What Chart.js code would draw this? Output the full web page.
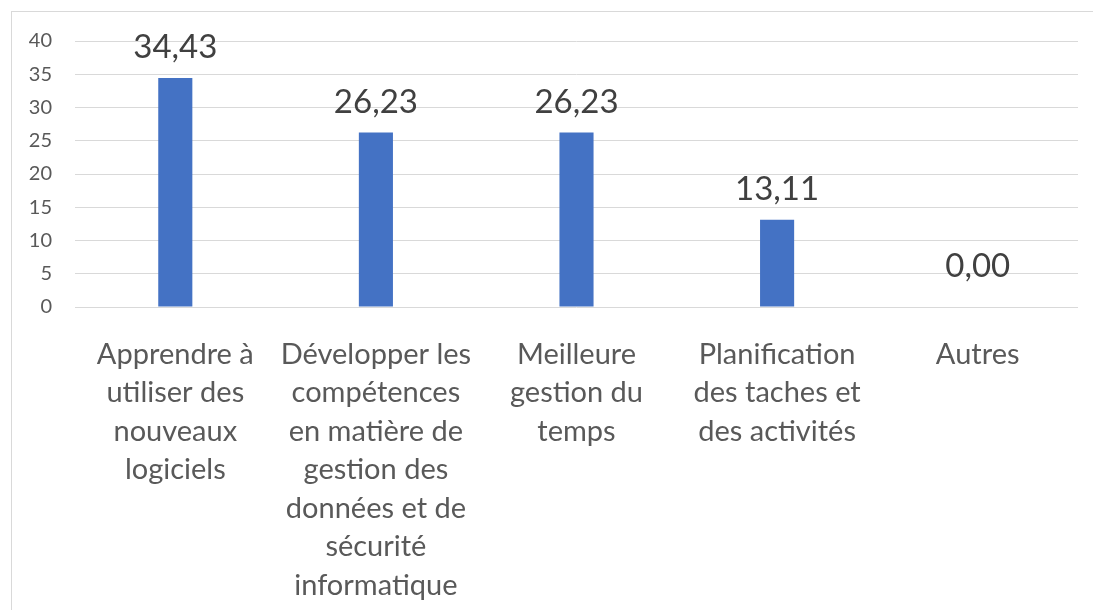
<!DOCTYPE html>
<html>
<head>
<meta charset="utf-8">
<script src="https://cdn.jsdelivr.net/npm/chart.js@4"></script>
<style>
  body { margin: 0; background: #fff; }
  #wrap { position: relative; width: 1093px; height: 610px; }
  #frame { position: absolute; left: 11px; top: 11px; width: 1100px; height: 620px; border: 1px solid #d9d9d9; box-sizing: border-box; }
  #wrap canvas { position: absolute; left: 0; top: 0; }
</style>
</head>
<body>
<div id="wrap">
  <div id="frame"></div>
  <canvas id="mainChart" width="1093" height="610"></canvas>
</div>
<script>
const labels = [
    ['Apprendre à', 'utiliser des', 'nouveaux', 'logiciels'],
    ['Développer les', 'compétences', 'en matière de', 'gestion des', 'données et de', 'sécurité', 'informatique'],
    ['Meilleure', 'gestion du', 'temps'],
    ['Planification', 'des taches et', 'des activités'],
    ['Autres']
];
const values = [34.43, 26.23, 26.23, 13.11, 0.00];

Chart.defaults.font.family = 'Lato';

// value labels above the bars, french decimal comma
const barLabels = {
    id: 'barLabels',
    afterDatasetsDraw(chart) {
        const ctx = chart.ctx;
        const meta = chart.getDatasetMeta(0);
        ctx.save();
        ctx.font = '33px Lato';
        ctx.fillStyle = '#404040';
        ctx.textAlign = 'center';
        ctx.textBaseline = 'alphabetic';
        meta.data.forEach((bar, i) => {
            let txt = values[i].toFixed(2).replace('.', ',');
            let off = values[i] === 0 ? 30 : 20;
            ctx.fillText(txt, bar.x, bar.y - off);
        });
        ctx.restore();
    }
};

new Chart(document.getElementById('mainChart'), {
    type: 'bar',
    data: {
        labels: labels,
        datasets: [{
            data: values,
            backgroundColor: '#4472C4',
            categoryPercentage: 1,
            barPercentage: 0.17
        }]
    },
    options: {
        responsive: false,
        animation: false,
        layout: { padding: { top: 41, right: 15, left: 0, bottom: 0 } },
        plugins: {
            legend: { display: false },
            tooltip: { enabled: false }
        },
        scales: {
            x: {
                grid: { display: false },
                border: { display: false },
                ticks: {
                    color: '#595959',
                    font: { size: 29, lineHeight: 38.5 / 29 },
                    padding: 20,
                    maxRotation: 0,
                    autoSkip: false
                },
                afterFit(scale) { scale.height = 303; }
            },
            y: {
                min: 0,
                max: 40,
                grid: { color: '#d9d9d9', lineWidth: 1, drawTicks: false },
                border: { display: false },
                ticks: {
                    stepSize: 5,
                    color: '#595959',
                    font: { size: 20 },
                    padding: 23
                },
                afterFit(scale) { scale.width = 75; }
            }
        }
    },
    plugins: [barLabels]
});
</script>
</body>
</html>
